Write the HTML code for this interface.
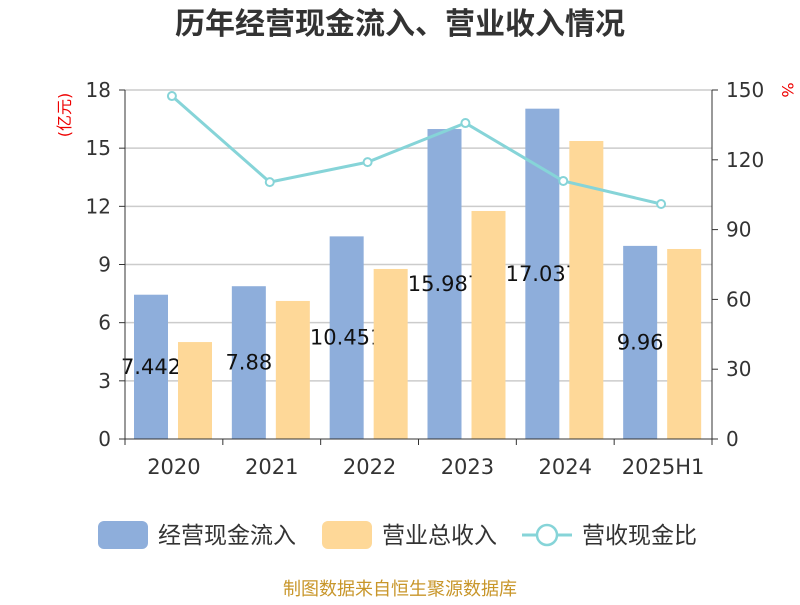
<!DOCTYPE html>
<html><head><meta charset="utf-8"><style>
body{margin:0;background:#fff;}
svg text{font-family:"DejaVu Sans","Noto Sans CJK SC",sans-serif;}
</style></head><body>
<svg width="800" height="600" viewBox="0 0 800 600" xmlns="http://www.w3.org/2000/svg">
<g id="root"></g>
</svg>
<script>
const categories=["2020","2021","2022","2023","2024","2025H1"];
const cashFlow=[7.442,7.88,10.451,15.987,17.037,9.96];
const cashLabels=["7.442","7.88","10.451","15.987","17.037","9.96"];
const revenue=[5.0,7.12,8.77,11.76,15.37,9.8];
const ratio=[147.4,110.4,119,135.8,110.9,101];
const leftTicks=[0,3,6,9,12,15,18];
const rightTicks=[0,30,60,90,120,150];
const NS="http://www.w3.org/2000/svg";
const root=document.getElementById('root');
const X0=125,X1=712,Y0=439,Y1=90;
const band=(X1-X0)/categories.length;
const yL=v=>Y0-(v/18)*(Y0-Y1);
const yR=v=>Y0-(v/150)*(Y0-Y1);
const xC=i=>X0+band*(i+0.5);
function el(tag,attrs,name,txt){const e=document.createElementNS(NS,tag);for(const k in attrs)e.setAttribute(k,attrs[k]);


if(txt!==undefined)e.textContent=txt;root.appendChild(e);return e;}
el('text',{x:400,y:34,'text-anchor':'middle','font-size':30,'font-weight':'bold',fill:'#333'},'chart-title','历年经营现金流入、营业收入情况');
leftTicks.forEach(t=>{const y=yL(t);
if(t>0)el('line',{x1:X0,x2:X1,y1:y,y2:y,stroke:'#ccc','stroke-width':1.5},'grid-line');
el('line',{x1:X0-6,x2:X0,y1:y,y2:y,stroke:'#333'},'left-tick');
el('text',{x:X0-14,y:y+7,'text-anchor':'end','font-size':20,fill:'#333'},'left-tick-label',t);});
rightTicks.forEach(t=>{const y=yR(t);
el('line',{x1:X1,x2:X1+6,y1:y,y2:y,stroke:'#333'},'right-tick');
el('text',{x:X1+14,y:y+7,'font-size':20,fill:'#333'},'right-tick-label',t);});
el('text',{x:0,y:0,'font-size':16,fill:'#e00','transform':'translate(70,115) rotate(-90)','text-anchor':'middle'},'left-axis-unit','(亿元)');
el('text',{x:0,y:0,'font-size':16,fill:'#e00','transform':'translate(782,90) rotate(90)','text-anchor':'middle'},'right-axis-unit','%');
categories.forEach((c,i)=>{
const xb=X0+band*i+9;
el('rect',{x:xb,y:yL(cashFlow[i]),width:34,height:Y0-yL(cashFlow[i]),fill:'#8eaedb'},'bar-cash-'+c);
el('text',{x:xb+17,y:(yL(cashFlow[i])+Y0)/2+7,'text-anchor':'middle','font-size':21,fill:'#111'},'bar-label-'+c,cashLabels[i]);
el('rect',{x:xb+44,y:yL(revenue[i]),width:34,height:Y0-yL(revenue[i]),fill:'#fed898'},'bar-revenue-'+c);
el('line',{x1:X0+band*i,x2:X0+band*i,y1:Y0,y2:Y0+6,stroke:'#333'},'x-tick');
el('text',{x:xC(i),y:474,'text-anchor':'middle','font-size':21,fill:'#333'},'x-tick-label',c);});
el('line',{x1:X1,x2:X1,y1:Y0,y2:Y0+6,stroke:'#333'},'x-tick');
el('line',{x1:X0,x2:X0,y1:Y1,y2:Y0,stroke:'#333'},'left-axis');
el('line',{x1:X1,x2:X1,y1:Y1,y2:Y0,stroke:'#333'},'right-axis');
el('line',{x1:X0,x2:X1,y1:Y0,y2:Y0,stroke:'#333'},'x-axis');
el('polyline',{points:ratio.map((v,i)=>xC(i)-2+','+yR(v)).join(' '),fill:'none',stroke:'#86d4d8','stroke-width':3},'ratio-line');
ratio.forEach((v,i)=>el('circle',{cx:xC(i)-2,cy:yR(v),r:4,fill:'#fff',stroke:'#86d4d8','stroke-width':2},'ratio-point'));
el('rect',{x:98,y:521,width:50,height:28,rx:6,fill:'#8eaedb'},'legend-cash-swatch');
el('text',{x:158,y:543,'font-size':23,fill:'#333'},'legend-cash-label','经营现金流入');
el('rect',{x:322,y:521,width:50,height:28,rx:6,fill:'#fed898'},'legend-revenue-swatch');
el('text',{x:382,y:543,'font-size':23,fill:'#333'},'legend-revenue-label','营业总收入');
el('line',{x1:522,x2:572,y1:535,y2:535,stroke:'#86d4d8','stroke-width':3},'legend-ratio-line');
el('circle',{cx:547,cy:535,r:10,fill:'#fff',stroke:'#86d4d8','stroke-width':2.5},'legend-ratio-marker');
el('text',{x:582,y:543,'font-size':23,fill:'#333'},'legend-ratio-label','营收现金比');
el('text',{x:400,y:595,'text-anchor':'middle','font-size':18,fill:'#c8962a'},'footer-source','制图数据来自恒生聚源数据库');
</script>
</body></html>
